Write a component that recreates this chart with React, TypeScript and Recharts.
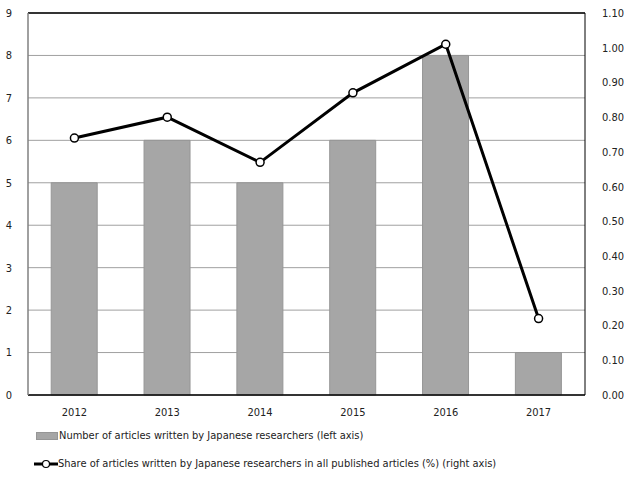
import {
  Bar,
  CartesianGrid,
  ComposedChart,
  Line,
  ReferenceLine,
  XAxis,
  YAxis,
} from "recharts";

const years = ["2012", "2013", "2014", "2015", "2016", "2017"];
const articleCounts = [5, 6, 5, 6, 8, 1];
const articleShares = [0.74, 0.8, 0.67, 0.87, 1.01, 0.22];
const leftTicks = [0, 1, 2, 3, 4, 5, 6, 7, 8, 9];
const rightTicks = [0, 0.1, 0.2, 0.3, 0.4, 0.5, 0.6, 0.7, 0.8, 0.9, 1.0, 1.1];

const data = years.map((year, i) => ({
  year,
  count: articleCounts[i],
  share: articleShares[i],
}));

const font = "'DejaVu Sans Condensed', 'DejaVu Sans', Verdana, sans-serif";
const tick = { fontSize: 11, fill: "#222", fontFamily: font };

export default function App() {
  return (
    <div style={{ position: "absolute", left: 0, top: 0, width: 627, height: 480, fontFamily: font }}>
      <ComposedChart
        width={627}
        height={480}
        data={data}
        barCategoryGap="25%"
        margin={{ top: 13, right: 0, left: 0, bottom: 55 }}
      >
        <CartesianGrid yAxisId="left" vertical={false} stroke="#a0a0a0" />
        <XAxis
          dataKey="year"
          height={30}
          tickLine={false}
          tickMargin={7}
          axisLine={{ stroke: "#000", strokeWidth: 1.5 }}
          tick={tick}
        />
        <YAxis
          yAxisId="left"
          width={28}
          domain={[0, 9]}
          ticks={leftTicks}
          tickLine={false}
          tickMargin={10}
          axisLine={{ stroke: "#808080", strokeWidth: 1.5 }}
          tick={tick}
          interval={0}
        />
        <YAxis
          yAxisId="right"
          orientation="right"
          width={42}
          domain={[0, 1.1]}
          ticks={rightTicks}
          tickLine={false}
          tickMargin={11}
          axisLine={{ stroke: "#000", strokeWidth: 1 }}
          tick={{ ...tick, textAnchor: "start" }}
          tickFormatter={(v) => Number(v).toFixed(2)}
          interval={0}
        />
        <ReferenceLine yAxisId="left" y={9} stroke="#000" strokeWidth={1.5} />
        <Bar
          yAxisId="left"
          dataKey="count"
          fill="#a6a6a6"
          stroke="#969696"
          strokeWidth={1}
          isAnimationActive={false}
        />
        <Line
          yAxisId="right"
          dataKey="share"
          stroke="#000"
          strokeWidth={3}
          dot={{ r: 4, fill: "#fff", stroke: "#000", strokeWidth: 1.5 }}
          isAnimationActive={false}
        />
      </ComposedChart>
      <div style={{ position: "absolute", left: 36, top: 429, fontSize: 11, color: "#222", display: "flex", alignItems: "center", whiteSpace: "nowrap" }}>
        <span style={{ display: "inline-block", width: 22, height: 8, background: "#a6a6a6", border: "1px solid #969696", boxSizing: "border-box", marginRight: 1 }} />
        Number of articles written by Japanese researchers (left axis)
      </div>
      <div style={{ position: "absolute", left: 34, top: 457, fontSize: 11, color: "#222", display: "flex", alignItems: "center", whiteSpace: "nowrap" }}>
        <svg width={24} height={10}>
          <line x1={0} y1={5} x2={24} y2={5} stroke="#000" strokeWidth={3} />
          <circle cx={12} cy={5} r={3.5} fill="#fff" stroke="#000" strokeWidth={1.2} />
        </svg>
        Share of articles written by Japanese researchers in all published articles (%) (right axis)
      </div>
    </div>
  );
}
